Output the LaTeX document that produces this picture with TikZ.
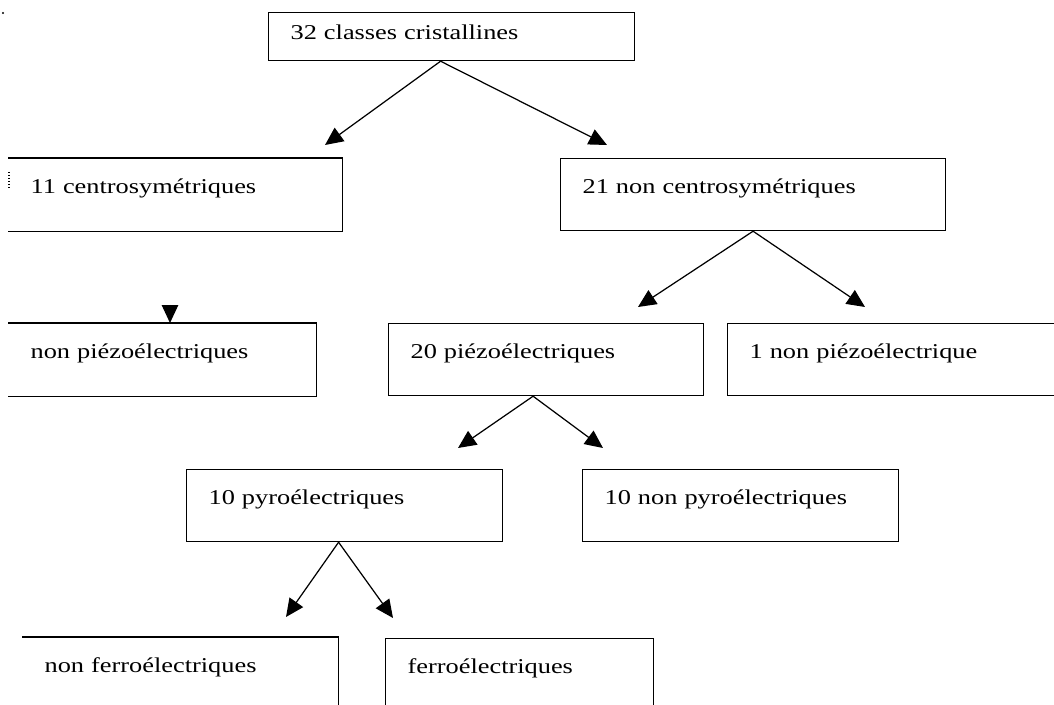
\documentclass[tikz,border=0pt]{standalone}
\usepackage{fontspec}
\setmainfont[FakeStretch=1.25]{Liberation Serif}
\usetikzlibrary{arrows.meta}
\begin{document}
\begin{tikzpicture}[x=0.02cm,y=-0.02cm,line width=0.7pt,
  boite/.style={rectangle,anchor=north west,inner xsep=0.44cm,inner ysep=0pt,
    align=left,text height=0.70cm,text depth=0.74cm,font=\fontsize{12}{14}\selectfont},
  fleche/.style={-{Triangle[length=0.36cm,width=0.33cm]}}]
\useasboundingbox (0,0) rectangle (1054,705);
% boites
\node[boite,draw,text width=6.44cm,text height=0.54cm,text depth=0.42cm] (classes) at (268,12) {32 classes cristallines};
\node[boite,text width=5.78cm] (centro) at (8,158) {11 centrosymétriques};
\node[boite,draw,text width=6.82cm] (noncentro) at (560,158) {21 non centrosymétriques};
\node[boite,text width=5.26cm] (nonpiezo) at (8,323) {non piézoélectriques};
\node[boite,draw,text width=5.42cm] (piezo) at (388,323) {20 piézoélectriques};
\node[boite,draw,text width=5.98cm] (unpiezo) at (727,323) {1 non piézoélectrique};
\node[boite,draw,text width=5.44cm] (pyro) at (186,469) {10 pyroélectriques};
\node[boite,draw,text width=5.44cm] (nonpyro) at (582,469) {10 non pyroélectriques};
\node[boite,text width=5.42cm] (nonferro) at (22,637) {non ferroélectriques};
\node[boite,draw,text width=4.48cm] (ferro) at (385,638) {ferroélectriques};
% boites ouvertes a gauche
\foreach \b in {centro,nonpiezo,nonferro}
  \draw (\b.north west) -- (\b.north east) -- (\b.south east) -- (\b.south west);
\draw[densely dotted] (9,172) -- (9,188);
\fill (3,13) circle (1.2);
% pointes
\coordinate (t0) at (170,305);
\coordinate (t1) at (325,145);
\coordinate (t2) at (607,145);
\coordinate (t3) at (638,307);
\coordinate (t4) at (865,307);
\coordinate (t5) at (458,448);
\coordinate (t6) at (603,448);
\coordinate (t7) at (286,617);
\coordinate (t8) at (393,618);
% fleches
\foreach \t in {t1,t2} \draw[fleche] ([xshift=-0.22cm]classes.south) -- (\t);
\foreach \t in {t3,t4} \draw[fleche] (noncentro.south) -- (\t);
\foreach \t in {t5,t6} \draw[fleche] ([xshift=-0.26cm]piezo.south) -- (\t);
\foreach \t in {t7,t8} \draw[fleche] ([xshift=-0.12cm]pyro.south) -- (\t);
\draw[fleche] (t0) -- (t0 |- nonpiezo.north);
\end{tikzpicture}
\end{document}
